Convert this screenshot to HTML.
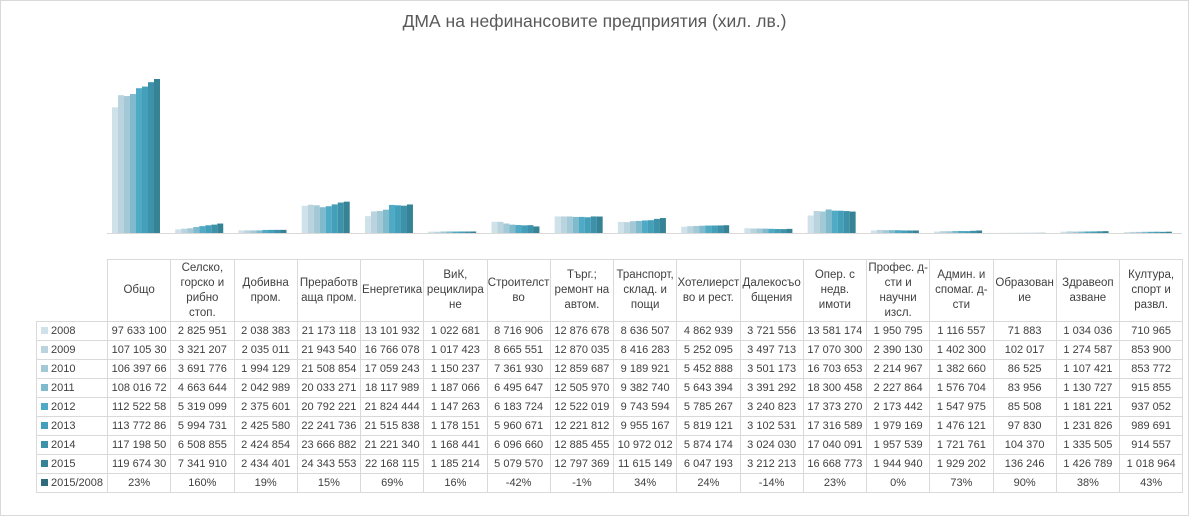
<!DOCTYPE html>
<html><head><meta charset="utf-8">
<style>
body{margin:0;width:1189px;height:516px;background:#fff;position:relative;overflow:hidden;font-family:"Liberation Sans","DejaVu Sans",sans-serif;color:#404040}
.frame{position:absolute;left:0;top:0;width:1187px;height:514px;border:1px solid #d9d9d9}
.title{position:absolute;top:11px;left:0;width:1189px;text-align:center;font-size:17.5px;color:#595959}
svg{position:absolute;left:0;top:0}
table{position:absolute;left:36px;top:259px;border-collapse:collapse;table-layout:fixed;font-size:11px}
td{border:1px solid #d9d9d9;text-align:center;padding:0;white-space:nowrap;overflow:hidden;height:18px;line-height:18px}
tr.h td{height:61px;line-height:15px;white-space:normal;font-size:11.5px}
td.l{text-align:left;padding-left:4px}
td.l i{display:inline-block;width:7px;height:7px;margin-right:3px}
tr.h td.e{border-left:none;border-top:none}
</style></head><body>
<div class="frame"></div>
<div class="title">ДМА на нефинансовите предприятия (хил. лв.)</div>
<svg id="s" width="1189" height="516"><line x1="107" y1="233.5" x2="1182" y2="233.5" stroke="#d9d9d9"/></svg>
<table>
<colgroup><col style="width:71px"><col span="17" style="width:63.25px"></colgroup>
<tr class="h"><td class="e"></td><td>Общо</td><td>Селско,<br>горско и<br>рибно<br>стоп.</td><td>Добивна<br>пром.</td><td>Преработв<br>аща пром.</td><td>Енергетика</td><td>ВиК,<br>рециклира<br>не</td><td>Строителст<br>во</td><td>Търг.;<br>ремонт на<br>автом.</td><td>Транспорт,<br>склад. и<br>пощи</td><td>Хотелиерст<br>во и рест.</td><td>Далекосъо<br>бщения</td><td>Опер. с<br>недв.<br>имоти</td><td>Профес. д-<br>сти и<br>научни<br>изсл.</td><td>Админ. и<br>спомаг. д-<br>сти</td><td>Образован<br>ие</td><td>Здравеоп<br>азване</td><td>Култура,<br>спорт и<br>развл.</td></tr>
<tr><td class="l"><i style="background:#cfe1e9"></i>2008</td><td>97 633 100</td><td>2 825 951</td><td>2 038 383</td><td>21 173 118</td><td>13 101 932</td><td>1 022 681</td><td>8 716 906</td><td>12 876 678</td><td>8 636 507</td><td>4 862 939</td><td>3 721 556</td><td>13 581 174</td><td>1 950 795</td><td>1 116 557</td><td>71 883</td><td>1 034 036</td><td>710 965</td></tr>
<tr><td class="l"><i style="background:#b9d4df"></i>2009</td><td>107 105 30</td><td>3 321 207</td><td>2 035 011</td><td>21 943 540</td><td>16 766 078</td><td>1 017 423</td><td>8 665 551</td><td>12 870 035</td><td>8 416 283</td><td>5 252 095</td><td>3 497 713</td><td>17 070 300</td><td>2 390 130</td><td>1 402 300</td><td>102 017</td><td>1 274 587</td><td>853 900</td></tr>
<tr><td class="l"><i style="background:#a3c8d6"></i>2010</td><td>106 397 66</td><td>3 691 776</td><td>1 994 129</td><td>21 508 854</td><td>17 059 243</td><td>1 150 237</td><td>7 361 930</td><td>12 859 687</td><td>9 189 921</td><td>5 452 888</td><td>3 501 173</td><td>16 703 653</td><td>2 214 967</td><td>1 382 660</td><td>86 525</td><td>1 107 421</td><td>853 772</td></tr>
<tr><td class="l"><i style="background:#80bacd"></i>2011</td><td>108 016 72</td><td>4 663 644</td><td>2 042 989</td><td>20 033 271</td><td>18 117 989</td><td>1 187 066</td><td>6 495 647</td><td>12 505 970</td><td>9 382 740</td><td>5 643 394</td><td>3 391 292</td><td>18 300 458</td><td>2 227 864</td><td>1 576 704</td><td>83 956</td><td>1 130 727</td><td>915 855</td></tr>
<tr><td class="l"><i style="background:#4eaac5"></i>2012</td><td>112 522 58</td><td>5 319 099</td><td>2 375 601</td><td>20 792 221</td><td>21 824 444</td><td>1 147 263</td><td>6 183 724</td><td>12 522 019</td><td>9 743 594</td><td>5 785 267</td><td>3 240 823</td><td>17 373 270</td><td>2 173 442</td><td>1 547 975</td><td>85 508</td><td>1 181 221</td><td>937 052</td></tr>
<tr><td class="l"><i style="background:#44a0ba"></i>2013</td><td>113 772 86</td><td>5 994 731</td><td>2 425 580</td><td>22 241 736</td><td>21 515 838</td><td>1 178 151</td><td>5 960 671</td><td>12 221 812</td><td>9 955 167</td><td>5 819 121</td><td>3 102 531</td><td>17 316 589</td><td>1 979 169</td><td>1 476 121</td><td>97 830</td><td>1 231 826</td><td>989 691</td></tr>
<tr><td class="l"><i style="background:#3d92a9"></i>2014</td><td>117 198 50</td><td>6 508 855</td><td>2 424 854</td><td>23 666 882</td><td>21 221 340</td><td>1 168 441</td><td>6 096 660</td><td>12 885 455</td><td>10 972 012</td><td>5 874 174</td><td>3 024 030</td><td>17 040 091</td><td>1 957 539</td><td>1 721 761</td><td>104 370</td><td>1 335 505</td><td>914 557</td></tr>
<tr><td class="l"><i style="background:#368396"></i>2015</td><td>119 674 30</td><td>7 341 910</td><td>2 434 401</td><td>24 343 553</td><td>22 168 115</td><td>1 185 214</td><td>5 079 570</td><td>12 797 369</td><td>11 615 149</td><td>6 047 193</td><td>3 212 213</td><td>16 668 773</td><td>1 944 940</td><td>1 929 202</td><td>136 246</td><td>1 426 789</td><td>1 018 964</td></tr>
<tr><td class="l"><i style="background:#2e6b7c"></i>2015/2008</td><td>23%</td><td>160%</td><td>19%</td><td>15%</td><td>69%</td><td>16%</td><td>-42%</td><td>-1%</td><td>34%</td><td>24%</td><td>-14%</td><td>23%</td><td>0%</td><td>73%</td><td>90%</td><td>38%</td><td>43%</td></tr>
</table>
<script>
var cols=["#cfe1e9","#b9d4df","#a3c8d6","#80bacd","#4eaac5","#44a0ba","#3d92a9","#368396"];
var rows=[...document.querySelectorAll("tr")].slice(1,9);
var s=document.getElementById("s"),sc=154/119674300,html="";
rows.forEach(function(r,y){
  var c=r.querySelectorAll("td");
  for(var k=1;k<18;k++){
    var v=parseFloat(c[k].textContent.replace(/\s/g,""));
    if(k==1)v=[97633100,107105300,106397660,108016720,112522580,113772860,117198500,119674300][y];
    var h=v*sc,x=107+(k-1)*63.24+5+y*6;
    html+='<rect x="'+x+'" y="'+(233-h)+'" width="6" height="'+h+'" fill="'+cols[y]+'"/>';
  }
});
s.insertAdjacentHTML("beforeend",html);
</script>
</body></html>
